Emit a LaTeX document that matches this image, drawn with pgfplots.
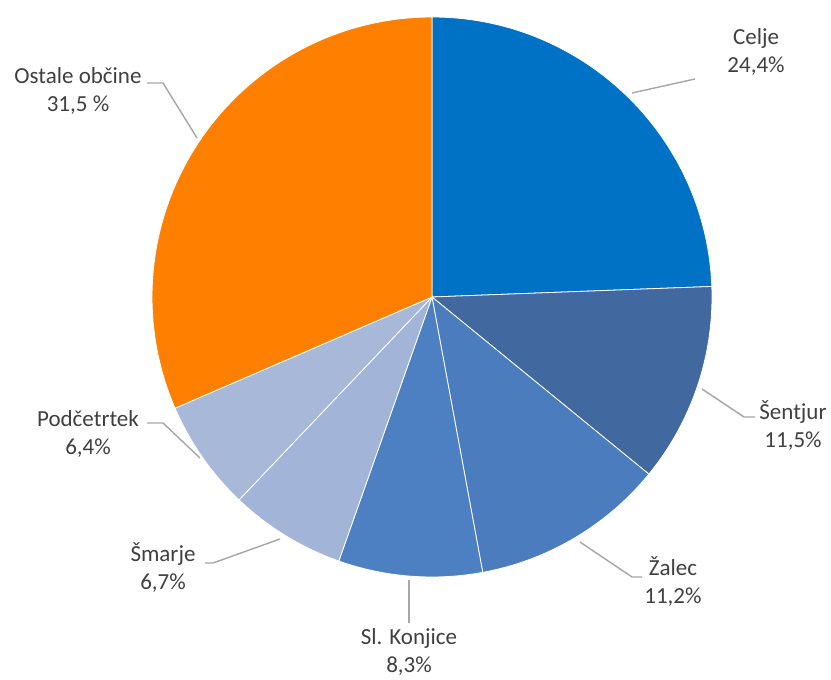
\documentclass[border=0pt]{standalone}
\usepackage{fontspec}
\setmainfont{Carlito}
\usepackage{pgfplots}
\pgfplotsset{compat=1.18}

\definecolor{cCelje}{HTML}{0072C6}
\definecolor{cSentjur}{HTML}{41689F}
\definecolor{cZalec}{HTML}{4A7CBE}
\definecolor{cKonjice}{HTML}{4C80C2}
\definecolor{cSmarje}{HTML}{A2B5D8}
\definecolor{cPodc}{HTML}{A7B8D8}
\definecolor{cOstale}{HTML}{FF8000}
\definecolor{lbl}{HTML}{404040}
\definecolor{leader}{HTML}{A6A6A6}

\tikzset{lab/.style={font=\fontsize{11.5}{14}\selectfont, text=lbl, align=center, inner sep=0pt},
  ldr/.style={leader, line width=0.7pt}}

% start (cumulative %), share (%), colour
\newcommand{\slice}[3]{%
  \fill[#3, draw=white, line width=0.4pt] (axis cs:432,297) -- ++({90-3.6*#1}:140pt)
    arc[start angle={90-3.6*#1}, end angle={90-3.6*(#1+#2)}, radius=140pt] -- cycle;}

\begin{document}
\begin{tikzpicture}
\begin{axis}[
  width=415.5pt, height=340pt, scale only axis,
  xmin=0, xmax=831, ymin=0, ymax=680, y dir=reverse,
  hide axis, clip=false
]
  \fill[white] (axis cs:0,0) rectangle (axis cs:831,680);

  \slice{0}{24.4}{cCelje}
  \slice{24.4}{11.5}{cSentjur}
  \slice{35.9}{11.2}{cZalec}
  \slice{47.1}{8.3}{cKonjice}
  \slice{55.4}{6.7}{cSmarje}
  \slice{62.1}{6.4}{cPodc}
  \slice{68.5}{31.5}{cOstale}

  % leader lines
  \draw[ldr] (axis cs:632,93) -- (axis cs:695,79);
  \draw[ldr] (axis cs:702,389) -- (axis cs:744,417) -- (axis cs:755,417);
  \draw[ldr] (axis cs:580,542) -- (axis cs:632,577) -- (axis cs:642,577);
  \draw[ldr] (axis cs:409,580) -- (axis cs:409,623);
  \draw[ldr] (axis cs:280,539) -- (axis cs:213,563) -- (axis cs:205,563);
  \draw[ldr] (axis cs:200,458) -- (axis cs:163,423) -- (axis cs:147,423);
  \draw[ldr] (axis cs:197,138) -- (axis cs:163,83) -- (axis cs:147,83);

  % labels
  \node[lab] at (axis cs:756,52) {Celje\\24,4\%};
  \node[lab] at (axis cs:793,426) {Šentjur\\11,5\%};
  \node[lab] at (axis cs:673,582) {Žalec\\11,2\%};
  \node[lab] at (axis cs:409,652) {Sl. Konjice\\8,3\%};
  \node[lab] at (axis cs:163,568) {Šmarje\\6,7\%};
  \node[lab] at (axis cs:88,434) {Podčetrtek\\6,4\%};
  \node[lab] at (axis cs:78,91) {Ostale občine\\31,5 \%};
\end{axis}
\pgfresetboundingbox
\useasboundingbox (current axis.south west) rectangle (current axis.north east);
\end{tikzpicture}
\end{document}
